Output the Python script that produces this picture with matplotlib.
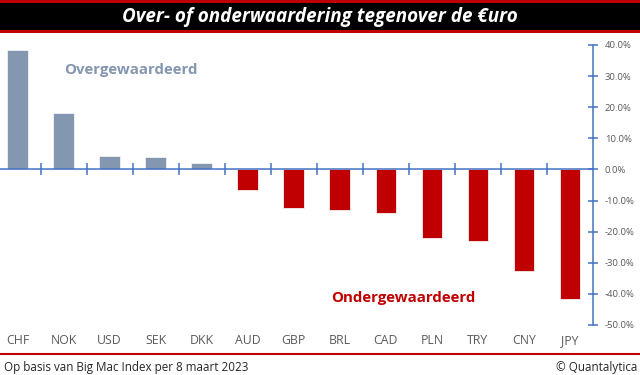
import numpy as np
import matplotlib.pyplot as plt
from matplotlib.lines import Line2D
from matplotlib.patches import Rectangle

# data (Big Mac Index, 8 maart 2023)
valuta = ["CHF", "NOK", "USD", "SEK", "DKK", "AUD", "GBP", "BRL", "CAD", "PLN", "TRY", "CNY", "JPY"]
afwijking = [38.4, 18.2, 4.2, 3.9, 2.0, -6.6, -12.5, -13.1, -13.9, -22.1, -23.0, -32.7, -41.7]
y_ticks = [40, 30, 20, 10, 0, -10, -20, -30, -40, -50]

blauw = "#4472C4"
grijs = "#8497B0"
rood = "#C00000"
tekst = "#595959"

plt.rcParams["font.family"] = ["Open Sans", "DejaVu Sans"]

fig = plt.figure(figsize=(6.4, 3.75), dpi=100)
ax = fig.add_axes([-5.4 / 640, 1 - 325 / 375, 598.4 / 640, 280 / 375])

x = np.arange(len(valuta))
kleuren = [grijs if v >= 0 else rood for v in afwijking]
ax.bar(x, afwijking, width=0.45, color=kleuren, edgecolor="#f2f2f2", linewidth=0.6, zorder=2)

ax.set_xlim(-0.5, len(valuta) - 0.5)
ax.set_ylim(-50, 40)

# y-as rechts
for s in ["top", "left"]:
    ax.spines[s].set_visible(False)
ax.spines["right"].set_color(blauw)
ax.spines["bottom"].set_color(blauw)
ax.spines["right"].set_linewidth(1.1)
ax.spines["bottom"].set_linewidth(1.1)
ax.spines["bottom"].set_position(("data", 0))
ax.spines["bottom"].set_zorder(3)
ax.yaxis.tick_right()
ax.set_yticks(y_ticks)
ax.set_yticklabels([f"{t:.1f}%" for t in y_ticks])
ax.tick_params(axis="y", direction="inout", length=7, color=blauw, width=1.1, labelcolor=tekst,
               labelsize=6.8, pad=5)

# tick streepjes op de nullijn tussen de categorieën
ax.set_xticks(np.arange(0.5, len(valuta) - 1, 1))
ax.set_xticklabels([])
ax.tick_params(axis="x", direction="inout", length=8, color=blauw, width=1.1)

for i, naam in enumerate(valuta):
    ax.text(i, -0.055, naam, transform=ax.get_xaxis_transform(), ha="center", va="center",
            fontsize=8.8, color=tekst)

ax.text(2.45, 32, "Overgewaardeerd", color=grijs, fontsize=10.8, fontweight="bold", ha="center", va="center")
ax.text(8.38, -41.3, "Ondergewaardeerd", color=rood, fontsize=10.8, fontweight="bold", ha="center", va="center")

# titelbalk
fig.patches.append(Rectangle((0, 1 - 33 / 375), 1, 33 / 375, transform=fig.transFigure,
                             facecolor=rood, edgecolor="none"))
fig.patches.append(Rectangle((0, 1 - 30 / 375), 1, 27 / 375, transform=fig.transFigure,
                             facecolor="black", edgecolor="none"))
fig.text(0.5, 1 - 17 / 375, "Over- of onderwaardering tegenover de \u20acuro", color="white",
         fontsize=13.6, fontweight="bold", fontstyle="italic", ha="center", va="center")

# voettekst
fig.lines.append(Line2D([0, 1], [1 - 354 / 375] * 2, transform=fig.transFigure, color=rood, linewidth=1.5))
fig.text(4 / 640, 1 - 367 / 375, "Op basis van Big Mac Index per 8 maart 2023", fontsize=8.4,
         color="#262626", ha="left", va="center")
fig.text(637 / 640, 1 - 367 / 375, "\u00a9 Quantalytica", fontsize=8.4, color="#262626",
         ha="right", va="center")

fig.savefig("out.png", dpi=100)
